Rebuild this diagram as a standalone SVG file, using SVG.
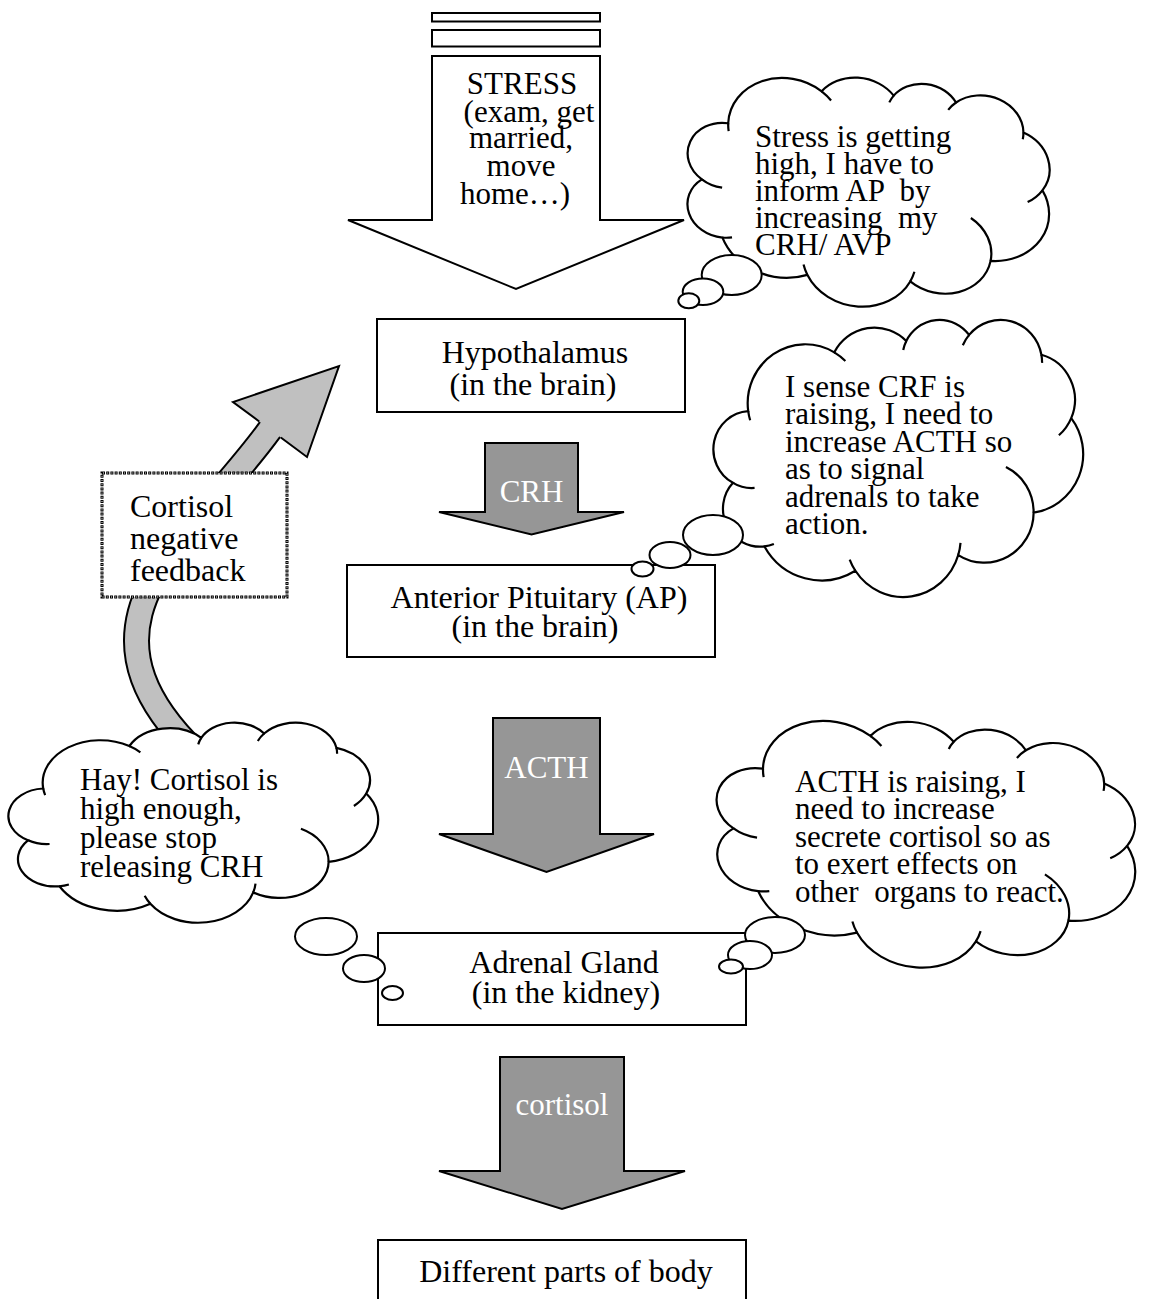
<svg xmlns="http://www.w3.org/2000/svg" width="1150" height="1299" viewBox="0 0 1150 1299">
<style>
  .t{font-family:"Liberation Serif","Times New Roman",serif;font-size:32px;fill:#000}
  .s{font-size:31px}
  .c{text-anchor:middle}
  .pre{white-space:pre}
  .lbl{font-family:"Liberation Serif","Times New Roman",serif;font-size:31px;fill:#fff;text-anchor:middle}
  .box{fill:#fff;stroke:#000;stroke-width:2}
  .big{fill:#969696;stroke:#000;stroke-width:2;stroke-linejoin:miter}
  .open{fill:#fff;stroke:#000;stroke-width:2;stroke-linejoin:miter}
  .bub{fill:#fff;stroke:#000;stroke-width:2}
</style>
<defs>
  <!-- cloud callout outline, drawn in a 432 x 432 unit box -->
  <path id="cloudShape" fill="#fff" stroke="#000" stroke-width="2.2" vector-effect="non-scaling-stroke"
        d="M39,143.7 A67.53,91.9 0 0 1 140.05,52.02 A53.33,72.67 0 0 1 224.55,34.32 A43.65,59.45 0 0 1 298.32,24.82 A48.57,65.95 0 0 1 383.17,55.77 A53.33,72.73 0 0 1 418.17,154.6 A67.75,92.2 0 0 1 374.03,302.04 A57.85,78.67 0 0 1 285.55,368.14 A67.52,92.15 0 0 1 164.8,392.66 A77.2,105.43 0 0 1 58.04,354.72 A43.6,59.18 0 0 1 21.12,255.5 A43.45,59.45 0 0 1 39,143.7 Z"/>
  <!-- inner creases of the cloud bumps -->
  <path id="cloudCrease" fill="none" stroke="#000" stroke-width="2.2" vector-effect="non-scaling-stroke"
        d="M46.46,263.47 A43.45,59.45 0 0 1 21.12,255.5 M69.12,350.9 A43.6,59.18 0 0 1 58.04,354.72 M164.8,392.66 A67.52,92.15 0 0 1 158.11,375.25 M288.21,349.04 A67.52,92.15 0 0 1 285.55,368.14 M341.52,230.68 A57.85,78.67 0 0 1 374.03,302.04 M418.17,154.6 A53.33,72.73 0 0 1 403.69,181.37 M383.17,55.77 A48.57,65.95 0 0 1 383.94,68.41 M290.9,40.95 A48.57,65.95 0 0 1 298.32,24.82 M220.96,48.22 A43.65,59.45 0 0 1 224.55,34.32 M140.05,52.02 A67.53,91.9 0 0 1 153.05,65.5 M41.27,157.89 A67.53,91.9 0 0 1 39,143.7"/>
</defs>

<rect width="1150" height="1299" fill="#fff"/>

<!-- arrows between the stages -->
<g id="connectors">
  <!-- striped stress arrow -->
  <g id="stress-arrow">
    <rect class="open" x="432" y="13" width="168" height="8.5"/>
    <rect class="open" x="432" y="30" width="168" height="16.5"/>
    <path class="open" d="M432,56 H600 V220 H684 L516,289 L348,220 H432 Z"/>
    <text class="t s c"><tspan x="522" y="94">STRESS</tspan><tspan x="529" y="122">(exam, get</tspan><tspan x="521" y="148">married,</tspan><tspan x="521" y="176">move</tspan><tspan x="515" y="204">home…)</tspan></text>
  </g>
  <g id="crh-arrow">
    <path class="big" d="M485,443 H578 V512 H624 L531.5,534.5 L439,512 H485 Z"/>
    <text class="lbl" x="531.5" y="502">CRH</text>
  </g>
  <g id="acth-arrow">
    <path class="big" d="M493,718 H600 V834 H654 L546.5,872 L439,834 H493 Z"/>
    <text class="lbl" x="546.5" y="778">ACTH</text>
  </g>
  <g id="cortisol-arrow">
    <path class="big" d="M500,1057 H624 V1171 H685 L562,1209 L439,1171 H500 Z"/>
    <text class="lbl" x="562" y="1115">cortisol</text>
  </g>
  <!-- curved feedback arrow back to the hypothalamus -->
  <g id="feedback-arrow">
    <path d="M195,752 C60,620 190,540 270,429.5 L276,421.5" fill="none" stroke="#000" stroke-width="27"/>
    <path d="M195,752 C60,620 190,540 270,429.5 L276,421.5" fill="none" stroke="#c0c0c0" stroke-width="23"/>
    <polygon points="259.2,421.45 233,402 339,366 307,457 280.8,437.55" fill="#c0c0c0"/>
    <polyline points="259.2,421.45 233,402 339,366 307,457 280.8,437.55" fill="none" stroke="#000" stroke-width="2" stroke-linejoin="miter"/>
  </g>
</g>

<!-- stage boxes -->
<g id="hypothalamus">
  <rect class="box" x="377" y="319" width="308" height="93"/>
  <text class="t c"><tspan x="535" y="363">Hypothalamus</tspan><tspan x="533" y="395">(in the brain)</tspan></text>
</g>
<g id="pituitary">
  <rect class="box" x="347" y="565" width="368" height="92"/>
  <text class="t c"><tspan x="539" y="608">Anterior Pituitary (AP)</tspan><tspan x="535" y="637">(in the brain)</tspan></text>
</g>
<g id="adrenal">
  <rect class="box" x="378" y="933" width="368" height="92"/>
  <text class="t c"><tspan x="564" y="973">Adrenal Gland</tspan><tspan x="566" y="1003">(in the kidney)</tspan></text>
</g>
<g id="body">
  <rect class="box" x="378" y="1240" width="368" height="80"/>
  <text class="t c" x="566" y="1282">Different parts of body</text>
</g>
<g id="feedback-label">
  <rect x="102" y="473" width="185" height="124" fill="#fff" stroke="#000" stroke-width="3" stroke-dasharray="3 1.2"/>
  <rect x="102" y="473" width="185" height="124" fill="none" stroke="#fff" stroke-width="1" stroke-dasharray="1 3.2" stroke-dashoffset="-1"/>
  <text class="t"><tspan x="130" y="517">Cortisol</tspan><tspan x="130" y="549">negative</tspan><tspan x="130" y="581">feedback</tspan></text>
</g>

<!-- thought clouds -->
<g id="cloud-hypothalamus">
  <g transform="translate(868,190) rotate(11) scale(0.8472,0.537) translate(-216,-216)">
    <use href="#cloudShape"/>
    <use href="#cloudCrease"/>
  </g>
  <ellipse class="bub" cx="731.7" cy="275" rx="30" ry="20"/>
  <ellipse class="bub" cx="703" cy="291.7" rx="20.3" ry="13.3"/>
  <ellipse class="bub" cx="688.8" cy="300.8" rx="10.5" ry="7.5"/>
  <text class="t s pre"><tspan x="755" y="147">Stress is getting</tspan><tspan x="755" y="174">high, I have to</tspan><tspan x="755" y="201">inform AP  by</tspan><tspan x="755" y="228">increasing  my</tspan><tspan x="755" y="255">CRH/ AVP</tspan></text>
</g>
<g id="cloud-pituitary">
  <g transform="translate(899,457.5) scale(0.8519,0.6412) translate(-216,-216)">
    <use href="#cloudShape"/>
    <use href="#cloudCrease"/>
  </g>
  <ellipse class="bub" cx="713" cy="535" rx="30" ry="20"/>
  <ellipse class="bub" cx="670" cy="555" rx="20.5" ry="13"/>
  <ellipse class="bub" cx="642.5" cy="569" rx="11" ry="7.5"/>
  <text class="t s"><tspan x="785" y="397">I sense CRF is</tspan><tspan x="785" y="424">raising, I need to</tspan><tspan x="785" y="452">increase ACTH so</tspan><tspan x="785" y="479">as to signal</tspan><tspan x="785" y="507">adrenals to take</tspan><tspan x="785" y="534">action.</tspan></text>
</g>
<g id="cloud-feedback">
  <g transform="translate(194,822) scale(0.8519,0.463) translate(-216,-216)">
    <use href="#cloudShape"/>
    <use href="#cloudCrease"/>
  </g>
  <ellipse class="bub" cx="326" cy="936.5" rx="31" ry="18.5"/>
  <ellipse class="bub" cx="364" cy="968.5" rx="21" ry="13.5"/>
  <ellipse class="bub" cx="392.5" cy="993" rx="10.5" ry="7"/>
  <text class="t s"><tspan x="80" y="790">Hay! Cortisol is</tspan><tspan x="80" y="819">high enough,</tspan><tspan x="80" y="848">please stop</tspan><tspan x="80" y="877">releasing CRH</tspan></text>
</g>
<g id="cloud-adrenal">
  <g transform="translate(925.6,842.6) rotate(11) scale(0.9815,0.5741) translate(-216,-216)">
    <use href="#cloudShape"/>
    <use href="#cloudCrease"/>
  </g>
  <ellipse class="bub" cx="775" cy="935" rx="30" ry="18"/>
  <ellipse class="bub" cx="750" cy="955" rx="22" ry="14"/>
  <ellipse class="bub" cx="731" cy="966.5" rx="12" ry="7"/>
  <text class="t s pre"><tspan x="795" y="792">ACTH is raising, I</tspan><tspan x="795" y="819">need to increase</tspan><tspan x="795" y="847">secrete cortisol so as</tspan><tspan x="795" y="874">to exert effects on</tspan><tspan x="795" y="902">other  organs to react.</tspan></text>
</g>
</svg>
